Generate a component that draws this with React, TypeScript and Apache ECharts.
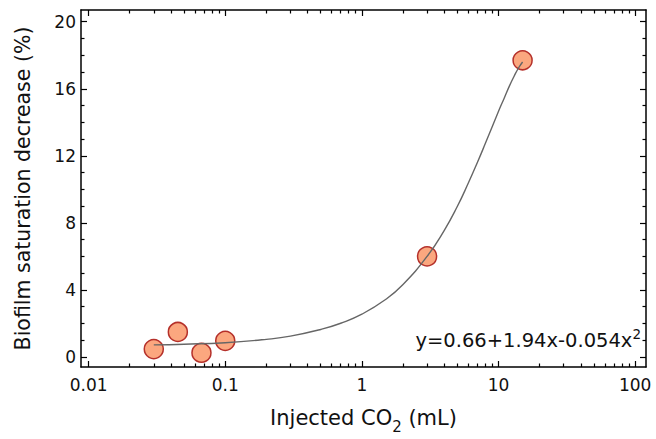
import React, { useEffect, useRef } from "react";
import * as echarts from "echarts";

// Measured points (Injected CO2 in mL, saturation decrease in %)
const pointX = [0.03, 0.045, 0.067, 0.1, 3, 15];
const pointY = [0.47, 1.49, 0.25, 0.96, 6.0, 17.7];

// Fitted curve
const curveX = [0.03, 0.05, 0.1, 0.2, 0.3, 0.5, 0.7, 1, 1.5, 2, 3, 4, 5, 6, 7, 8, 10, 11, 12, 13, 14, 15];
const curveY = [0.72, 0.76, 0.85, 1.05, 1.24, 1.64, 2.01, 2.55, 3.44, 4.32, 6.0, 7.54, 8.99, 10.36, 11.6, 12.73, 14.66, 15.44, 16.16, 16.75, 17.24, 17.6];

// Tick labels
const xTickValues = [0.01, 0.1, 1, 10, 100];
const xTickLabels = ["0.01", "0.1", "1", "10", "100"];
const yTickValues = [0, 4, 8, 12, 16, 20];

const equationText = "y=0.66+1.94x-0.054x";

const X_MIN = Math.log10(0.0088);
const X_MAX = Math.log10(120);
const Y_MIN = -0.6;
const Y_MAX = 20.7;

const FONT = "DejaVu Sans";

export default function App() {
  const ref = useRef<HTMLDivElement>(null);
  useEffect(() => {
    if (!ref.current) return;
    const chart = echarts.init(ref.current, undefined, { renderer: "svg" });

    const lg = (v: number) => Math.log10(v);
    const xMajor = xTickValues.map(lg);
    const xMinor: number[] = [];
    for (let d = -2; d <= 1; d++) {
      for (let k = 2; k <= 9; k++) xMinor.push(Math.log10(k * Math.pow(10, d)));
    }
    const yMinor: number[] = [];
    for (let v = 0; v <= 20; v++) if (v % 4 !== 0) yMinor.push(v);

    const labelMap: Record<string, string> = {};
    xTickValues.forEach((v, i) => {
      labelMap[lg(v).toFixed(3)] = xTickLabels[i];
    });

    const black = "#000";
    const baseX = (position: "top" | "bottom", ticks: number[], len: number, showLine: boolean, showLabel: boolean) => ({
      type: "value" as const,
      position,
      min: X_MIN,
      max: X_MAX,
      axisLine: { show: showLine, onZero: false, lineStyle: { color: black, width: 1.5 } },
      axisTick: { show: true, inside: true, length: len, customValues: ticks, lineStyle: { color: black, width: 1.2 } },
      axisLabel: {
        show: showLabel,
        customValues: ticks,
        margin: 9,
        fontSize: 17,
        fontFamily: FONT,
        color: "#111",
        formatter: (v: number) => labelMap[v.toFixed(3)] ?? "",
      },
      splitLine: { show: false },
    });
    const baseY = (position: "left" | "right", ticks: number[], len: number, showLine: boolean, showLabel: boolean) => ({
      type: "value" as const,
      position,
      min: Y_MIN,
      max: Y_MAX,
      axisLine: { show: showLine, onZero: false, lineStyle: { color: black, width: 1.5 } },
      axisTick: { show: true, inside: true, length: len, customValues: ticks, lineStyle: { color: black, width: 1.2 } },
      axisLabel: {
        show: showLabel,
        customValues: ticks,
        margin: 5,
        fontSize: 17,
        fontFamily: FONT,
        color: "#111",
      },
      splitLine: { show: false },
    });

    const xAxes: any[] = [
      {
        ...baseX("bottom", xMajor, 6, true, true),
        name: "Injected CO{sub|2} (mL)",
        nameLocation: "middle",
        nameGap: 35,
        nameTextStyle: {
          fontSize: 21,
          fontFamily: FONT,
          color: "#111",
          lineHeight: 32,
          rich: {
            sub: { fontSize: 15, fontFamily: FONT, color: "#111", verticalAlign: "bottom", lineHeight: 15 },
          },
        },
      },
      baseX("bottom", xMinor, 3.5, false, false),
      baseX("top", xMajor, 6, true, false),
      baseX("top", xMinor, 3.5, false, false),
    ];
    const yAxes: any[] = [
      {
        ...baseY("left", yTickValues, 6, true, true),
        name: "Biofilm saturation decrease (%)",
        nameLocation: "middle",
        nameGap: 48,
        nameTextStyle: { fontSize: 20.5, fontFamily: FONT, color: "#111" },
      },
      baseY("left", yMinor, 3.5, false, false),
      baseY("right", yTickValues, 6, true, false),
      baseY("right", yMinor, 3.5, false, false),
    ];

    chart.setOption({
      animation: false,
      backgroundColor: "#fff",
      grid: { left: 81, right: 10, top: 10, bottom: 67, containLabel: false },
      xAxis: xAxes,
      yAxis: yAxes,
      series: [
        {
          type: "scatter",
          xAxisIndex: 0,
          yAxisIndex: 0,
          symbol: "circle",
          symbolSize: 19,
          itemStyle: { color: "#FBA77F", borderColor: "#B5302A", borderWidth: 1.5, opacity: 1 },
          data: pointX.map((x, i) => [lg(x), pointY[i]]),
          z: 2,
        },
        {
          type: "line",
          xAxisIndex: 0,
          yAxisIndex: 0,
          smooth: true,
          showSymbol: false,
          symbol: "none",
          lineStyle: { color: "#666", width: 1.4 },
          data: curveX.map((x, i) => [lg(x), curveY[i]]),
          z: 3,
        },
      ],
      graphic: [
        {
          type: "text",
          right: 15,
          top: 327,
          style: {
            text: equationText + "{sup|2}",
            fontSize: 19.5,
            fontFamily: FONT,
            fill: "#111",
            lineHeight: 27,
            rich: {
              sup: { fontSize: 13.5, fontFamily: FONT, fill: "#111", verticalAlign: "top", lineHeight: 13 },
            },
          },
        },
      ],
    });
    return () => chart.dispose();
  }, []);
  return <div ref={ref} style={{ width: 656, height: 439, position: "absolute", left: 0, top: 0 }} />;
}
